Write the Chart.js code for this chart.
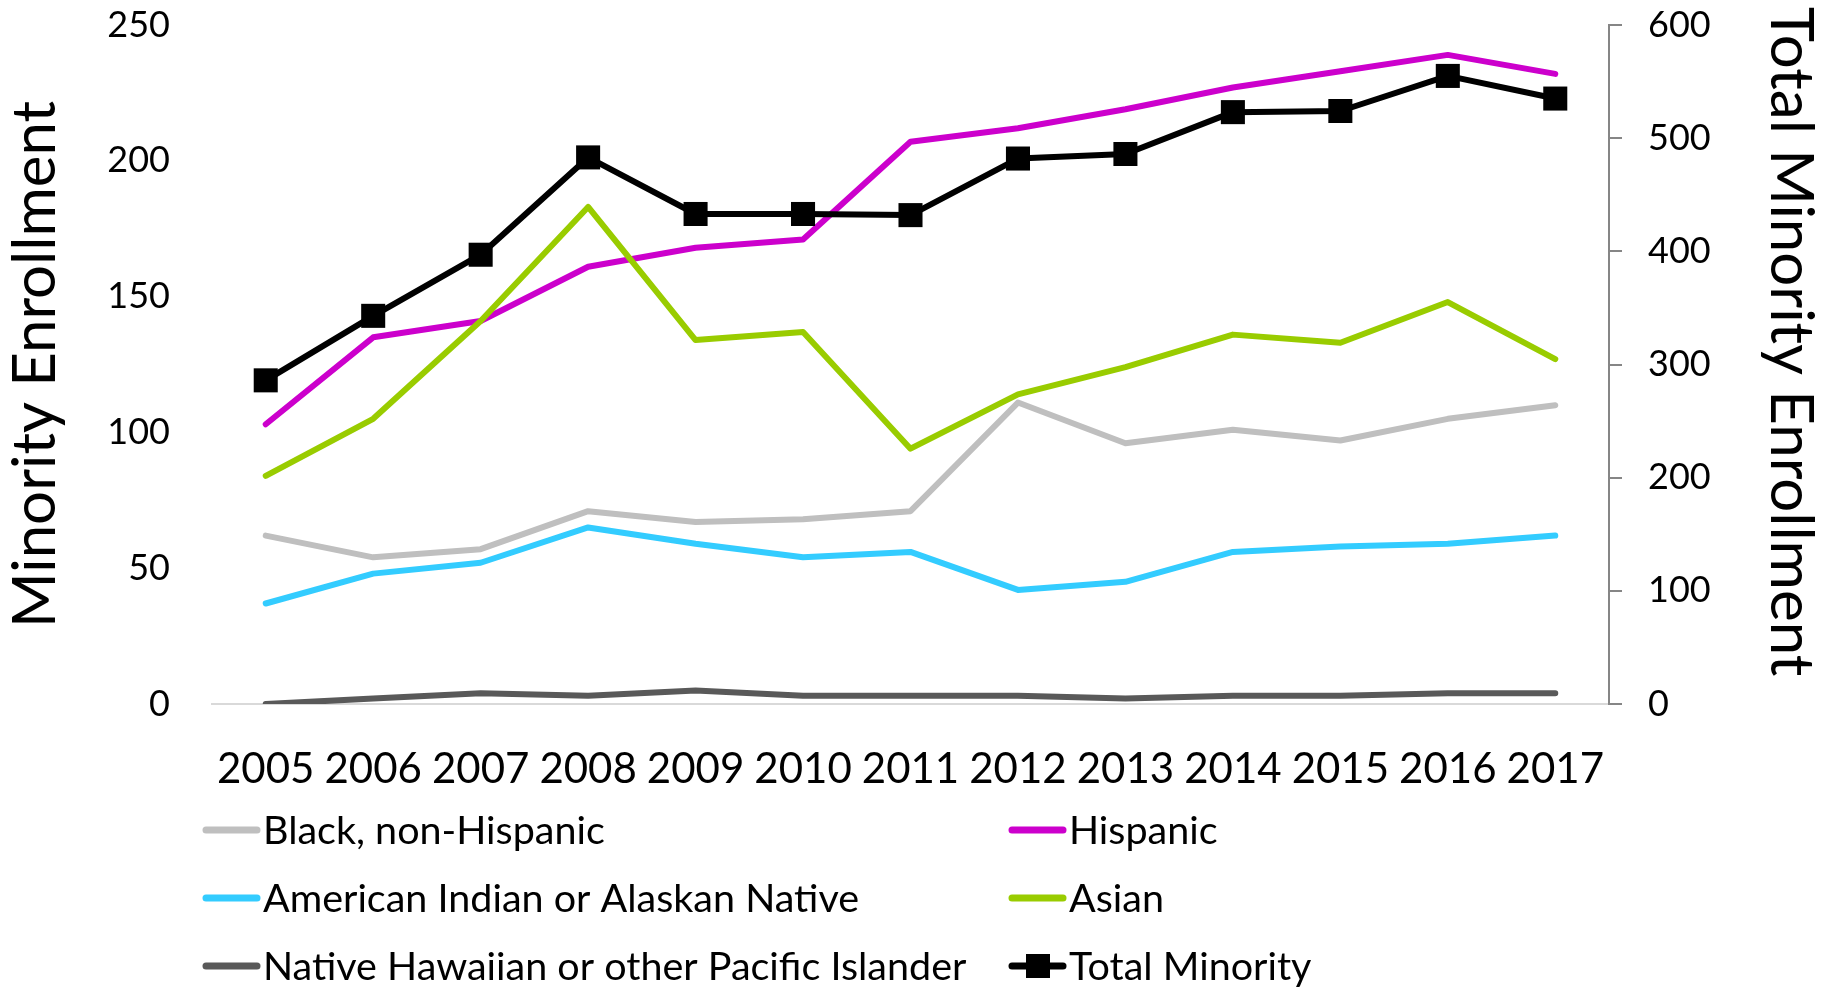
<!DOCTYPE html>
<html>
<head>
<meta charset="utf-8">
<script src="https://cdn.jsdelivr.net/npm/chart.js@4.4.1/dist/chart.umd.min.js"></script>
<style>
  html, body { margin: 0; padding: 0; background: #fff; }
  #wrap { width: 1825px; height: 987px; position: relative; }
</style>
</head>
<body>
<div id="wrap"><canvas id="chart"></canvas></div>
<script>
const years = ['2005', '2006', '2007', '2008', '2009', '2010', '2011', '2012', '2013', '2014', '2015', '2016', '2017'];
const black = [62, 54, 57, 71, 67, 68, 71, 111, 96, 101, 97, 105, 110];
const hispanic = [103, 135, 141, 161, 168, 171, 207, 212, 219, 227, 233, 239, 232];
const amIndian = [37, 48, 52, 65, 59, 54, 56, 42, 45, 56, 58, 59, 62];
const asian = [84, 105, 141, 183, 134, 137, 94, 114, 124, 136, 133, 148, 127];
const hawaiian = [0, 2, 4, 3, 5, 3, 3, 3, 2, 3, 3, 4, 4];
const totalMinority = [286, 343, 397, 483, 433, 433, 432, 482, 486, 523, 524, 555, 535];

const leftTicks = [0, 50, 100, 150, 200, 250];
const rightTicks = [0, 100, 200, 300, 400, 500, 600];

const FONT = 'Lato, "Open Sans", sans-serif';

function line(label, data, color, order) {
  return {
    label: label,
    data: data,
    borderColor: color,
    backgroundColor: color,
    borderWidth: 6,
    borderCapStyle: 'round',
    borderJoinStyle: 'round',
    pointRadius: 0,
    pointHoverRadius: 0,
    tension: 0,
    yAxisID: 'y',
    order: order
  };
}

// legend laid out as a 2-column grid under the axis, like the original
const gridLegend = {
  id: 'gridLegend',
  afterDraw(chart) {
    const ctx = chart.ctx;
    const cols = [202, 1008];
    const rows = [830, 898, 966];
    chart.data.datasets.forEach((ds, i) => {
      const x = cols[i % 2];
      const y = rows[Math.floor(i / 2)];
      ctx.save();
      ctx.strokeStyle = ds.borderColor;
      ctx.lineWidth = 7;
      ctx.lineCap = 'round';
      ctx.beginPath();
      ctx.moveTo(x + 4, y);
      ctx.lineTo(x + 55, y);
      ctx.stroke();
      if (ds.pointRadius) {
        ctx.fillStyle = ds.pointBackgroundColor;
        ctx.fillRect(x + 30 - 12, y - 12, 24, 24);
      }
      ctx.fillStyle = '#000';
      ctx.font = '39.5px ' + FONT;
      ctx.textBaseline = 'middle';
      ctx.textAlign = 'left';
      ctx.fillText(ds.label, x + 61, y + 1);
      ctx.restore();
    });
  }
};

// keep tick label overflow from pushing the plot area down
function noLabelPadding(scale) {
  scale.paddingTop = 0;
  scale.paddingBottom = 0;
}

const datasets = [
  line('Black, non-Hispanic', black, '#bfbfbf', 6),
  line('Hispanic', hispanic, '#cc00cc', 5),
  line('American Indian or Alaskan Native', amIndian, '#33ccff', 4),
  line('Asian', asian, '#99cc00', 3),
  line('Native Hawaiian or other Pacific Islander', hawaiian, '#595959', 2),
  {
    label: 'Total Minority',
    data: totalMinority,
    borderColor: '#000000',
    backgroundColor: '#000000',
    borderWidth: 6,
    borderJoinStyle: 'round',
    pointStyle: 'rect',
    pointRadius: 17,
    pointHoverRadius: 17,
    pointBackgroundColor: '#000000',
    pointBorderWidth: 0,
    tension: 0,
    yAxisID: 'y1',
    order: 1
  }
];

new Chart(document.getElementById('chart'), {
  type: 'line',
  data: { labels: years, datasets: datasets },
  options: {
    responsive: true,
    maintainAspectRatio: false,
    animation: false,
    events: [],
    layout: { padding: { top: 25, left: 0, right: 0, bottom: 193 } },
    plugins: {
      legend: { display: false },
      tooltip: { enabled: false }
    },
    scales: {
      x: {
        offset: true,
        grid: { display: false, drawTicks: false },
        border: { display: true, color: '#d9d9d9', width: 2 },
        ticks: { color: '#000', font: { family: FONT, size: 42 }, padding: 40, maxRotation: 0, autoSkip: false },
        afterFit(scale) { scale.height = 90; }
      },
      y: {
        position: 'left',
        min: 0,
        max: 250,
        afterBuildTicks(scale) { scale.ticks = leftTicks.map(v => ({ value: v })); },
        grid: { display: false, drawTicks: false },
        border: { display: false },
        ticks: { color: '#000', font: { family: FONT, size: 36 }, padding: 42 },
        title: {
          display: true,
          text: 'Minority Enrollment',
          color: '#000',
          font: { family: FONT, size: 60, lineHeight: 1 },
          padding: { top: 6, bottom: 0 }
        },
        afterFit(scale) { scale.width = 212; noLabelPadding(scale); }
      },
      y1: {
        position: 'right',
        min: 0,
        max: 600,
        afterBuildTicks(scale) { scale.ticks = rightTicks.map(v => ({ value: v })); },
        grid: { drawOnChartArea: false, drawTicks: true, tickLength: 13, color: '#868686', lineWidth: 2 },
        border: { display: true, color: '#868686', width: 2 },
        ticks: { color: '#000', font: { family: FONT, size: 36 }, padding: 26 },
        title: {
          display: true,
          // trailing spaces nudge the centred title a little upward, as in the original
          text: 'Total Minority Enrollment   ',
          color: '#000',
          font: { family: FONT, size: 60, lineHeight: 1 },
          padding: { top: 5, bottom: 0 }
        },
        afterFit(scale) { scale.width = 216; noLabelPadding(scale); }
      }
    }
  },
  plugins: [gridLegend]
});
</script>
</body>
</html>
